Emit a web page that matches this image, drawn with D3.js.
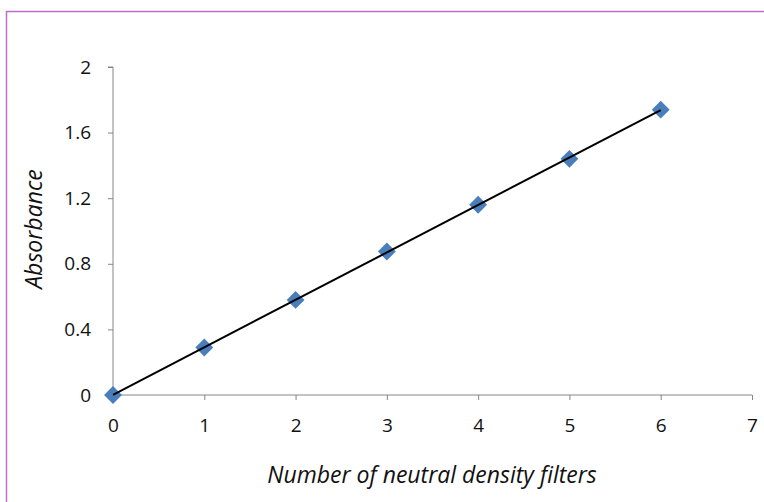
<!DOCTYPE html>
<html lang="en">
<head>
  <meta charset="UTF-8">
  <title>Absorbance vs neutral density filters</title>
  <script src="https://d3js.org/d3.v7.min.js"></script>
  <style>
    body { margin: 0; background: white; }
    text { font-family: 'Open Sans', 'Noto Sans', sans-serif; fill: #111; }
    .axis path, .axis line { stroke: #868686; }
  </style>
</head>
<body>
  <svg width="764" height="502"></svg>

  <script>
    const svg = d3.select("svg");

    // The data
    const filters = [0, 1, 2, 3, 4, 5, 6];
    const absorbance = [0, 0.29, 0.58, 0.875, 1.16, 1.44, 1.74];
    const xTicks = [0, 1, 2, 3, 4, 5, 6, 7];
    const yTicks = [0, 0.4, 0.8, 1.2, 1.6, 2];

    // outer frame
    svg.append("rect")
      .attr("x", 6.5).attr("y", 11.5)
      .attr("width", 800).attr("height", 600)
      .attr("fill", "none")
      .attr("stroke", "#b76fc9")
      .attr("stroke-width", 1.5);

    const x = d3.scaleLinear().domain([0, 7]).range([113, 752]);
    const y = d3.scaleLinear().domain([0, 2]).range([395, 67]);

    // X-axis
    const xAxis = svg.append("g")
      .attr("class", "axis")
      .attr("transform", "translate(0,395)")
      .call(d3.axisBottom(x).tickValues(xTicks).tickSize(5).tickPadding(19).tickFormat(d3.format("d")))
      .attr("font-size", 19);
    xAxis.select(".domain").attr("d", "M113,0H752");
    xAxis.selectAll(".tick").filter(d => d === 0).select("line").remove();

    // Y-axis
    const yAxis = svg.append("g")
      .attr("class", "axis")
      .attr("transform", "translate(113,0)")
      .call(d3.axisLeft(y).tickValues(yTicks).tickSize(5).tickPadding(17).tickFormat(d => d === 0 || d === 2 ? d : d.toFixed(1)))
      .attr("font-size", 19);
    yAxis.select(".domain").attr("d", "M-5,67H0V395");

    // trendline (least squares through the points)
    const mx = d3.mean(filters), my = d3.mean(absorbance);
    const slope = d3.sum(filters, (v, i) => (v - mx) * (absorbance[i] - my)) /
                  d3.sum(filters, v => (v - mx) * (v - mx));
    const icpt = my - slope * mx;

    // Points
    svg.selectAll(".pt")
      .data(filters)
      .enter().append("path")
      .attr("class", "pt")
      .attr("d", d3.symbol(d3.symbolSquare, 160))
      .attr("transform", (d, i) => `translate(${x(d)},${y(absorbance[i])}) rotate(45)`)
      .attr("fill", "#4a7ebb");

    svg.append("line")
      .attr("x1", x(0)).attr("y1", y(icpt))
      .attr("x2", x(6)).attr("y2", y(icpt + slope * 6))
      .attr("stroke", "#000")
      .attr("stroke-width", 2);

    // Axis titles
    svg.append("text")
      .attr("x", 432).attr("y", 483)
      .attr("text-anchor", "middle")
      .style("font-size", "23px")
      .style("font-style", "italic")
      .text("Number of neutral density filters");

    svg.append("text")
      .attr("transform", "translate(42,229) rotate(-90)")
      .attr("text-anchor", "middle")
      .style("font-size", "23px")
      .style("font-style", "italic")
      .text("Absorbance");
  </script>
</body>
</html>
